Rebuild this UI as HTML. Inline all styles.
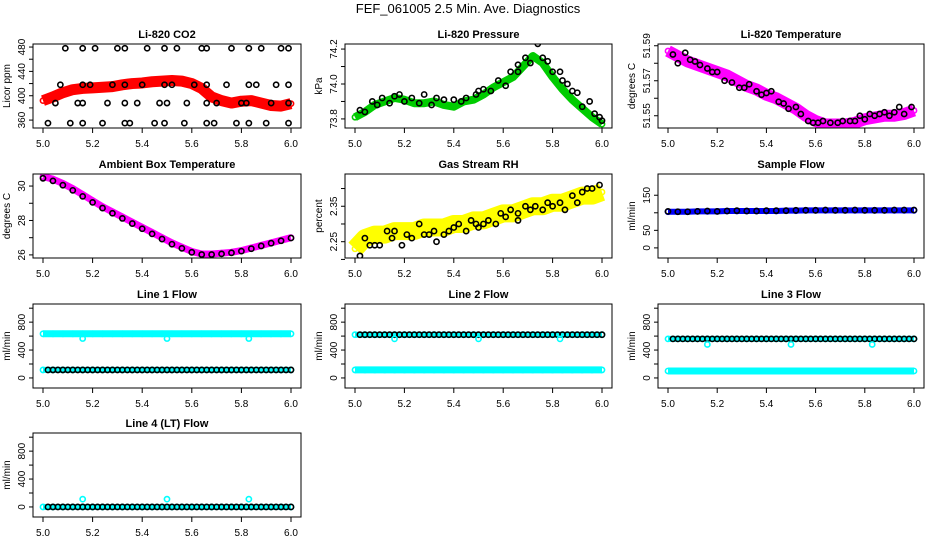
<!DOCTYPE html>
<html><head><meta charset="utf-8"><style>
html,body{margin:0;padding:0;background:#fff;}
svg{display:block;font-family:"Liberation Sans",Arial,sans-serif;}
</style></head><body>
<svg id="c" width="936" height="540" viewBox="0 0 936 540">
<text x="468" y="13" text-anchor="middle" font-size="13">FEF_061005  2.5 Min. Ave. Diagnostics</text>
</svg>
<script>
const grid = [5.00,5.04,5.08,5.12,5.16,5.20,5.24,5.28,5.32,5.36,5.40,5.44,5.48,5.52,5.56,5.60,5.64,5.68,5.72,5.76,5.80,5.84,5.88,5.92,5.96,6.00];
const fine = [5.02,5.04,5.06,5.08,5.10,5.12,5.14,5.16,5.18,5.20,5.22,5.24,5.26,5.28,5.30,5.32,5.34,5.36,5.38,5.40,5.42,5.44,5.46,5.48,5.50,5.52,5.54,5.56,5.58,5.60,5.62,5.64,5.66,5.68,5.70,5.72,5.74,5.76,5.78,5.80,5.82,5.84,5.86,5.88,5.90,5.92,5.94,5.96,5.98,6.00];
const xTicks = [5.0,5.2,5.4,5.6,5.8,6.0];
const xTickLabels = ["5.0","5.2","5.4","5.6","5.8","6.0"];

const co2Red = [392,398,405,410,412,413,414,415,418,420,421,423,424,425,424,420,412,398,392,388,391,392,388,384,383,387];
const co2BlackX = [5.09,5.16,5.21,5.30,5.33,5.42,5.49,5.54,5.64,5.66,5.76,5.83,5.88,5.96,5.99,5.07,5.16,5.19,5.28,5.33,5.40,5.49,5.52,5.61,5.66,5.74,5.83,5.86,5.94,5.99,5.05,5.14,5.16,5.26,5.33,5.38,5.47,5.50,5.58,5.66,5.70,5.80,5.82,5.92,5.99,5.02,5.11,5.16,5.24,5.33,5.35,5.45,5.49,5.57,5.66,5.69,5.78,5.83,5.90,5.99];
const co2BlackY = [478,478,478,478,478,478,478,478,478,478,478,478,478,478,478,418,418,418,418,418,418,418,418,418,418,418,418,418,418,418,388,388,388,388,388,388,388,388,388,388,388,388,388,388,388,355,355,355,355,355,355,355,355,355,355,355,355,355,355,355];

const presGreen = [73.81,73.84,73.88,73.90,73.92,73.91,73.89,73.89,73.90,73.88,73.87,73.90,73.91,73.94,73.98,74.01,74.04,74.10,74.16,74.12,74.04,73.97,73.91,73.86,73.81,73.77];
const presBlackX = [5.02,5.04,5.07,5.09,5.11,5.14,5.16,5.18,5.20,5.23,5.26,5.28,5.31,5.33,5.36,5.40,5.43,5.45,5.49,5.50,5.52,5.55,5.58,5.61,5.63,5.66,5.66,5.69,5.71,5.74,5.76,5.78,5.80,5.83,5.84,5.86,5.88,5.90,5.92,5.95,5.97,5.99,6.00];
const presBlackY = [73.85,73.84,73.90,73.88,73.92,73.89,73.93,73.94,73.90,73.92,73.89,73.94,73.88,73.92,73.91,73.91,73.90,73.92,73.94,73.96,73.97,73.96,74.02,73.99,74.07,74.07,74.11,74.15,74.12,74.23,74.15,74.13,74.07,74.07,74.02,74.00,73.96,73.95,73.87,73.90,73.83,73.81,73.79];

const tempMag = [51.587,51.584,51.581,51.579,51.577,51.575,51.573,51.570,51.567,51.565,51.562,51.560,51.557,51.554,51.550,51.547,51.545,51.545,51.545,51.546,51.548,51.549,51.550,51.550,51.551,51.553];
const tempBlackX = [5.02,5.04,5.07,5.09,5.11,5.13,5.16,5.18,5.20,5.23,5.26,5.29,5.31,5.33,5.36,5.38,5.40,5.42,5.45,5.47,5.49,5.52,5.54,5.57,5.59,5.61,5.63,5.66,5.69,5.71,5.74,5.76,5.78,5.80,5.82,5.84,5.86,5.88,5.90,5.92,5.94,5.96,5.99];
const tempBlackY = [51.585,51.580,51.586,51.582,51.581,51.579,51.577,51.575,51.575,51.570,51.569,51.566,51.566,51.568,51.564,51.562,51.563,51.564,51.558,51.557,51.554,51.555,51.551,51.547,51.546,51.546,51.547,51.546,51.546,51.547,51.547,51.547,51.550,51.548,51.551,51.550,51.551,51.552,51.550,51.552,51.555,51.551,51.555];

const ambMag = [30.55,30.40,30.15,29.85,29.50,29.15,28.80,28.50,28.20,27.90,27.60,27.30,27.00,26.70,26.45,26.20,26.05,26.05,26.10,26.15,26.25,26.40,26.55,26.70,26.85,27.00];
const ambBlack = [30.45,30.30,30.05,29.75,29.40,29.05,28.72,28.42,28.12,27.82,27.52,27.22,26.92,26.62,26.38,26.15,26.02,26.02,26.06,26.12,26.22,26.36,26.52,26.68,26.82,26.98];

const rhYellow = [2.23,2.26,2.27,2.27,2.28,2.28,2.28,2.29,2.29,2.29,2.30,2.30,2.31,2.31,2.32,2.33,2.33,2.34,2.35,2.35,2.36,2.36,2.37,2.38,2.38,2.39];
const rhBlackX = [5.02,5.04,5.06,5.08,5.10,5.13,5.15,5.16,5.19,5.21,5.23,5.26,5.28,5.30,5.32,5.33,5.36,5.38,5.40,5.42,5.45,5.47,5.49,5.50,5.52,5.54,5.57,5.59,5.61,5.63,5.66,5.66,5.69,5.71,5.73,5.76,5.78,5.80,5.83,5.85,5.88,5.90,5.92,5.94,5.96,5.99];
const rhBlackY = [2.21,2.26,2.24,2.24,2.24,2.28,2.26,2.28,2.24,2.27,2.26,2.30,2.27,2.27,2.28,2.25,2.27,2.28,2.29,2.30,2.28,2.31,2.30,2.29,2.30,2.31,2.30,2.33,2.32,2.34,2.33,2.31,2.35,2.34,2.35,2.34,2.36,2.35,2.36,2.34,2.38,2.36,2.39,2.40,2.40,2.41];

const sfBlue = [103,103,103,104,104,104,105,105,105,105,105,105,106,106,107,107,107,107,107,107,107,107,107,107,107,107];
const sfBlack = [104,103,103,104,105,104,105,106,105,105,106,106,106,107,107,107,108,107,107,108,107,107,107,108,108,108];

const outX = [5.16,5.50,5.83];
const l1High = 633, l1Low = 115, l1Out = [565,565,565];
const l2High = 620, l2Low = 115, l2Out = [560,560,560];
const l3High = 560, l3Low = 100, l3Out = [480,480,480];
const l4Base = 0, l4Out = [112,112,112];
const flowTicks = [0,200,400,600,800,1000];
const flowLabels = ["0","","400","","800",""];

const NS = "http://www.w3.org/2000/svg";
const svg = document.getElementById('c');
const colL = [33,345,658], colW = [268,267,266];
const rowT = [44,174,304,433], rowH = 84;

function mk(tag, attrs, parent) {
  const e = document.createElementNS(NS, tag);
  for (const k in attrs) e.setAttribute(k, attrs[k]);
  (parent || svg).appendChild(e);
  return e;
}
function panel(c, r, name, title, ylab, ylim, yTicks, yLabels, series) {
  const L = colL[c], W = colW[c], T = rowT[r], H = rowH;
  const g = mk('g', {});
  
  
  const sx = v => L + 10 + (v - 5) * (W - 20);
  const sy = v => T + H - (v - ylim[0]) / (ylim[1] - ylim[0]) * H;
  const t = mk('text', {x: L + W / 2, y: T - 6, 'text-anchor': 'middle', 'font-size': 11, 'font-weight': 'bold'}, g);
  t.textContent = title;
  
  
  const yl = mk('text', {x: L - 23, y: T + H / 2, 'text-anchor': 'middle', 'font-size': 10, transform: `rotate(-90 ${L - 23} ${T + H / 2})`}, g);
  yl.textContent = ylab;
  
  
  yTicks.forEach((v, i) => {
    const y = sy(v);
    mk('line', {x1: L - 4, x2: L, y1: y, y2: y, stroke: '#000'}, g);
    if (yLabels[i]) {
      const tl = mk('text', {x: L - 8, y: y, 'text-anchor': 'middle', 'font-size': 10, transform: `rotate(-90 ${L - 8} ${y})`}, g);
      tl.textContent = yLabels[i];
      
      
    }
  });
  xTicks.forEach((v, i) => {
    const x = sx(v);
    mk('line', {x1: x, x2: x, y1: T + H, y2: T + H + 5, stroke: '#000'}, g);
    const tl = mk('text', {x: x, y: T + H + 19, 'text-anchor': 'middle', 'font-size': 10}, g);
    tl.textContent = xTickLabels[i];
    
    
  });
  const clip = 'clip' + c + r;
  const cp = mk('clipPath', {id: clip}, g);
  mk('rect', {x: L, y: T, width: W, height: H}, cp);
  const pg = mk('g', {'clip-path': `url(#${clip})`}, g);
  series.forEach(s => {
    if (s.band) {
      const pts = s.x.map((v, i) => sx(v) + ',' + sy(s.y[i])).join(' ');
      const pl = mk('polyline', {points: pts, fill: 'none', stroke: s.color, 'stroke-width': s.band, 'stroke-linejoin': 'round', 'stroke-linecap': 'butt'}, pg);
      
      
    }
    s.x.forEach((v, i) => {
      const ci = mk('circle', {cx: sx(v), cy: sy(s.y[i]), r: 2.6, fill: 'none', stroke: s.color, 'stroke-width': 1.6}, pg);
      
      
    });
  });
  const box = mk('rect', {x: L, y: T, width: W, height: H, fill: 'none', stroke: '#000', 'stroke-width': 1}, g);
  
  
}
const cst = (arr, v) => arr.map(() => v);

panel(0,0,'co2','Li-820 CO2','Licor ppm',[347,485],[360,380,400,420,440,460,480],["360","","400","","440","","480"],[
  {name:'co2-red',x:grid,y:co2Red,color:'#ff0000',band:11},
  {name:'co2-black',x:co2BlackX,y:co2BlackY,color:'#000'}]);
panel(1,0,'pressure','Li-820 Pressure','kPa',[73.748,74.229],[73.8,73.9,74.0,74.1,74.2],["73.8","","74.0","","74.2"],[
  {name:'pressure-green',x:grid,y:presGreen,color:'#00cc00',band:8},
  {name:'pressure-black',x:presBlackX,y:presBlackY,color:'#000'}]);
panel(2,0,'li820-temp','Li-820 Temperature','degrees C',[51.543,51.591],[51.55,51.56,51.57,51.58,51.59],["51.55","","51.57","","51.59"],[
  {name:'temp-magenta',x:grid,y:tempMag,color:'#ff00ff',band:12},
  {name:'temp-black',x:tempBlackX,y:tempBlackY,color:'#000'}]);
panel(0,1,'ambient-temp','Ambient Box Temperature','degrees C',[25.82,30.7],[26,27,28,29,30],["26","","28","","30"],[
  {name:'ambient-magenta',x:grid,y:ambMag,color:'#ff00ff',band:7},
  {name:'ambient-black',x:grid,y:ambBlack,color:'#000'}]);
panel(1,1,'gas-rh','Gas Stream RH','percent',[2.204,2.441],[2.20,2.25,2.30,2.35,2.40],["","2.25","","2.35",""],[
  {name:'rh-yellow',x:grid,y:rhYellow,color:'#ffff00',band:18},
  {name:'rh-black',x:rhBlackX,y:rhBlackY,color:'#000'}]);
panel(2,1,'sample-flow','Sample Flow','ml/min',[-28.8,210.5],[0,50,100,150],["0","50","","150"],[
  {name:'sample-blue',x:grid,y:sfBlue,color:'#0000ff',band:6},
  {name:'sample-black',x:grid,y:sfBlack,color:'#000'}]);
panel(0,2,'line1-flow','Line 1 Flow','ml/min',[-144,1060],flowTicks,flowLabels,[
  {name:'line1-cyan-high',x:grid,y:cst(grid,l1High),color:'#00ffff',band:7},
  {name:'line1-cyan-low',x:grid,y:cst(grid,l1Low),color:'#00ffff',band:6},
  {name:'line1-black',x:fine,y:cst(fine,l1Low),color:'#000'},
  {name:'line1-outlier',x:outX,y:l1Out,color:'#00ffff'}]);
panel(1,2,'line2-flow','Line 2 Flow','ml/min',[-144,1060],flowTicks,flowLabels,[
  {name:'line2-cyan-high',x:grid,y:cst(grid,l2High),color:'#00ffff',band:6},
  {name:'line2-cyan-low',x:grid,y:cst(grid,l2Low),color:'#00ffff',band:7},
  {name:'line2-black',x:fine,y:cst(fine,l2High),color:'#000'},
  {name:'line2-outlier',x:outX,y:l2Out,color:'#00ffff'}]);
panel(2,2,'line3-flow','Line 3 Flow','ml/min',[-144,1060],flowTicks,flowLabels,[
  {name:'line3-cyan-high',x:grid,y:cst(grid,l3High),color:'#00ffff',band:6},
  {name:'line3-cyan-low',x:grid,y:cst(grid,l3Low),color:'#00ffff',band:7},
  {name:'line3-black',x:fine,y:cst(fine,l3High),color:'#000'},
  {name:'line3-outlier',x:outX,y:l3Out,color:'#00ffff'}]);
panel(0,3,'line4-flow','Line 4 (LT) Flow','ml/min',[-144,1060],flowTicks,flowLabels,[
  {name:'line4-cyan',x:grid,y:cst(grid,l4Base),color:'#00ffff',band:6},
  {name:'line4-black',x:fine,y:cst(fine,l4Base),color:'#000'},
  {name:'line4-outlier',x:outX,y:l4Out,color:'#00ffff'}]);
</script>
</body></html>
